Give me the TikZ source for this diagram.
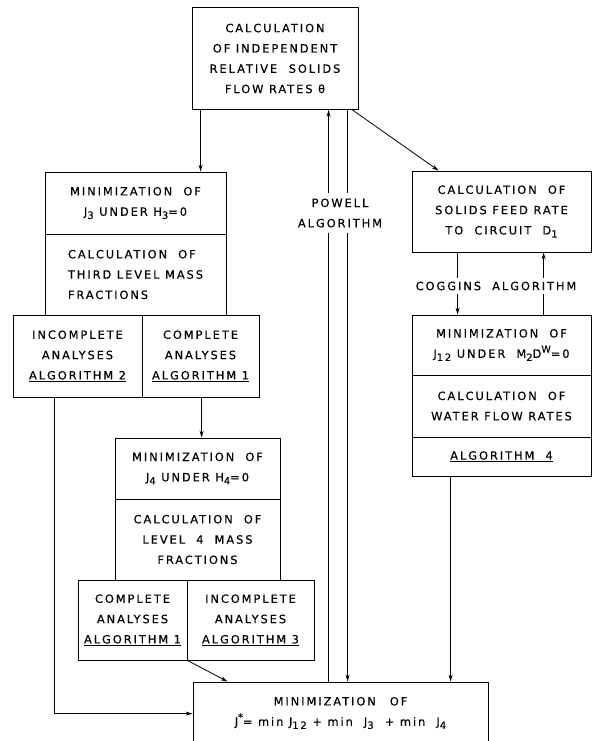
\documentclass[tikz,border=0pt]{standalone}
\usepackage{fontspec}
\setmainfont{DejaVu Sans}[LetterSpace=17, FakeBold=0.4]
\usetikzlibrary{arrows.meta,calc}

% lettering helpers: lowered / raised indices
\newcommand\lo[1]{\raisebox{-0.5ex}{\fontsize{10}{10}\selectfont #1}}
\newcommand\hi[1]{\raisebox{0.85ex}{\fontsize{9.5}{9.5}\selectfont #1}}
\newcommand\lett{\fontsize{11.4}{20.3}\selectfont}

\tikzset{
  box/.style={draw, line width=0.8pt, inner sep=0pt, align=center, font=\lett},
  tag/.style={fill=white, inner xsep=2pt, align=center, font=\lett},
  arr/.style={line width=0.8pt, -{Stealth[length=7pt,width=4pt]}},
}

\begin{document}
\begin{tikzpicture}[x=1pt, y=-1pt]
\useasboundingbox (0,0) rectangle (600,741);

% top: relative solids flow rates
\node[box, minimum width=166pt, minimum height=102pt] (top) at (275,58.5)
  {CALCULATION\\OF INDEPENDENT\\RELATIVE\hspace{6pt} SOLIDS\\FLOW RATES θ};

% level 3 branch
\node[box, minimum width=181pt, minimum height=62pt] (j3min) at (135.5,203)
  {MINIMIZATION\ \ OF\\J\lo{3} UNDER H\lo{3}=0};
\node[box, align=left, minimum width=181pt, minimum height=81pt] (j3cal) at (135.5,274.5)
  {CALCULATION\ \ OF\\THIRD LEVEL MASS\\FRACTIONS};
\node[box, minimum width=129pt, minimum height=82pt] (inc2) at (77.5,356)
  {INCOMPLETE\\ANALYSES\\\underline{ALGORITHM 2}};
\node[box, minimum width=117pt, minimum height=82pt] (com1) at (200.5,356)
  {COMPLETE\\ANALYSES\\\underline{ALGORITHM 1}};

% level 4 branch
\node[box, minimum width=165pt, minimum height=61pt] (j4min) at (197.5,468.5)
  {MINIMIZATION\ \ OF\\J\lo{4} UNDER H\lo{4}=0};
\node[box, minimum width=165pt, minimum height=81pt] (j4cal) at (197.5,539.5)
  {CALCULATION\ \ OF\\LEVEL\ \ 4\ \ MASS\\FRACTIONS};
\node[box, minimum width=109pt, minimum height=80pt] (com1b) at (132.5,620)
  {COMPLETE\\ANALYSES\\\underline{ALGORITHM 1}};
\node[box, minimum width=127pt, minimum height=80pt] (inc3) at (250.5,620)
  {INCOMPLETE\\ANALYSES\\\underline{ALGORITHM 3}};

% circuit branch
\node[box, minimum width=179pt, minimum height=81pt] (feed) at (501.5,211.5)
  {CALCULATION\ \ OF\\SOLIDS FEED RATE\\TO\ \ CIRCUIT\ \ D\lo{1}};
\node[box, minimum width=179pt, minimum height=60pt] (j12min) at (501.5,345)
  {MINIMIZATION\ \ OF\\J\lo{12} UNDER\ \ M\lo{2}D\hi{W}=0};
\node[box, minimum width=179pt, minimum height=62pt] (water) at (501.5,406)
  {CALCULATION\ \ OF\\WATER FLOW RATES};
\node[box, minimum width=179pt, minimum height=39pt] (alg4) at (501.5,456.5)
  {\underline{ALGORITHM\ \ 4}};

% overall objective (runs past the lower edge)
\node[box, minimum width=295pt, minimum height=62pt] (final) at (340.5,713)
  {MINIMIZATION\hspace{14pt}OF\\J\hi{*}= min J\lo{12} + min\ \ J\lo{3}\ \ + min\ \ J\lo{4}};

% connectors
\draw[arr] ($(top.south west)+(9,0)$) -- ($(j3min.north west)+(156,0)$);
\draw[arr] ($(top.south east)+(-6,0)$) -- ($(feed.north west)+(27,0)$);
\draw[arr] ($(final.north west)+(136,0)$) -- ($(top.south west)+(137,0)$);
\draw[arr] ($(top.south west)+(156,0)$) -- ($(final.north west)+(155,0)$);
\node[tag, inner ysep=6pt] (powell) at (340,213) {POWELL\\ALGORITHM};

\draw[arr] ($(feed.south west)+(46,0)$) -- ($(j12min.north west)+(46,0)$);
\draw[arr] ($(j12min.north west)+(132,0)$) -- ($(feed.south west)+(132,0)$);
\node[tag, inner ysep=4pt] (coggins) at (496,286) {COGGINS\ \ ALGORITHM};

\draw[arr] ($(inc2.south west)+(42,0)$) |- ($(final.north west)+(0,32)$);
\draw[arr] ($(com1.south west)+(60,0)$) -- ($(j4min.north west)+(87,0)$);
\draw[arr] (com1b.south east) -- ($(final.north west)+(35,0)$);
\draw[arr] ($(alg4.south west)+(39,0)$) -- ($(final.north west)+(258,0)$);
\end{tikzpicture}
\end{document}
